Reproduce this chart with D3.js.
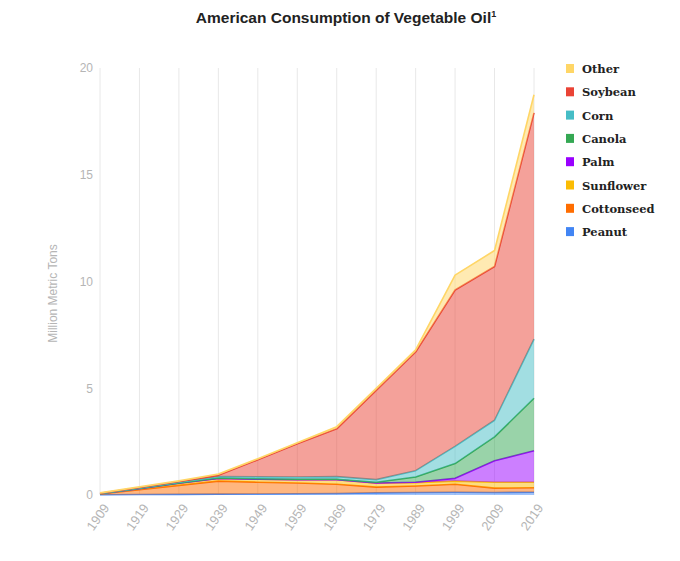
<!DOCTYPE html>
<html>
<head>
<meta charset="utf-8">
<script src="https://cdn.jsdelivr.net/npm/d3@7"></script>
<style>
  body { margin: 0; background: #fff; }
  svg { display: block; }
</style>
</head>
<body>
<svg id="chart" width="680" height="561"></svg>
<script>
// years on the x axis
const years = [1909, 1919, 1929, 1939, 1949, 1959, 1969, 1979, 1989, 1999, 2009, 2019];

// million metric tons per oil
const peanut     = [0.01, 0.02, 0.03, 0.04, 0.05, 0.06, 0.07, 0.10, 0.12, 0.13, 0.12, 0.13];
const cottonseed = [0.04, 0.23, 0.42, 0.61, 0.55, 0.50, 0.43, 0.27, 0.30, 0.37, 0.20, 0.21];
const sunflower  = [0.01, 0.05, 0.10, 0.13, 0.14, 0.16, 0.22, 0.18, 0.16, 0.15, 0.28, 0.26];
const palm       = [0.00, 0.00, 0.00, 0.00, 0.00, 0.00, 0.00, 0.01, 0.02, 0.13, 1.00, 1.47];
const canola     = [0.00, 0.01, 0.01, 0.02, 0.02, 0.02, 0.02, 0.04, 0.24, 0.69, 1.12, 2.46];
const corn       = [0.01, 0.02, 0.04, 0.07, 0.09, 0.10, 0.12, 0.12, 0.30, 0.81, 0.78, 2.77];
const soybean    = [0.01, 0.02, 0.03, 0.05, 0.80, 1.56, 2.24, 4.18, 5.56, 7.32, 7.20, 10.60];
const other      = [0.02, 0.03, 0.03, 0.06, 0.05, 0.05, 0.10, 0.10, 0.10, 0.70, 0.75, 0.85];

// stacking order, bottom to top
const seriesNames  = ["Peanut", "Cottonseed", "Sunflower", "Palm", "Canola", "Corn", "Soybean", "Other"];
const seriesValues = [peanut, cottonseed, sunflower, palm, canola, corn, soybean, other];
const seriesColors = ["#4285f4", "#ff6d00", "#fbbc04", "#9900ff", "#34a853", "#46bdc6", "#ea4335", "#ffd666"];

const yTicks = [0, 5, 10, 15, 20];

const svg = d3.select("#chart");
const margin = { left: 100, right: 146, top: 68, bottom: 66 };
const width  = 680 - margin.left - margin.right;
const height = 561 - margin.top - margin.bottom;

const x = d3.scaleLinear().domain([1909, 2019]).range([margin.left, margin.left + width]);
const y = d3.scaleLinear().domain([0, 20]).range([margin.top + height, margin.top]);

// table for d3.stack
const table = years.map((yr, i) => {
  const row = { year: yr };
  seriesNames.forEach((name, k) => { row[name] = seriesValues[k][i]; });
  return row;
});
const stacked = d3.stack().keys(seriesNames)(table);

// title
const title = svg.append("text")
  .attr("x", 346)
  .attr("y", 23)
  .attr("text-anchor", "middle")
  .attr("font-family", "'Liberation Sans', Arial, sans-serif")
  .attr("font-weight", "bold")
  .attr("font-size", 15.5)
  .attr("fill", "#222")
  .text("American Consumption of Vegetable Oil");
title.append("tspan")
  .attr("font-size", 9)
  .attr("dy", -6)
  .text("1");

// vertical gridlines
svg.append("g")
  .selectAll("line")
  .data(years)
  .enter()
  .append("line")
  .attr("x1", d => x(d))
  .attr("x2", d => x(d))
  .attr("y1", margin.top)
  .attr("y2", margin.top + height)
  .attr("stroke", "#e8e8e8")
  .attr("stroke-width", 1);

// y axis labels
const yAxis = svg.append("g")
  .attr("transform", `translate(${margin.left},0)`)
  .call(d3.axisLeft(y).tickValues(yTicks).tickSize(0).tickPadding(7));
yAxis.select(".domain").remove();
yAxis.selectAll("text")
  .attr("font-family", "'Liberation Sans', Arial, sans-serif")
  .attr("font-size", 12)
  .attr("fill", "#b5b5b5");

// y axis title
svg.append("text")
  .attr("transform", `translate(57,${margin.top + height / 2 + 12}) rotate(-90)`)
  .attr("text-anchor", "middle")
  .attr("font-family", "'Liberation Sans', Arial, sans-serif")
  .attr("font-size", 12)
  .attr("fill", "#b5b5b5")
  .text("Million Metric Tons");

// x axis labels (rotated)
const xAxis = svg.append("g")
  .attr("transform", `translate(0,${margin.top + height})`)
  .call(d3.axisBottom(x).tickValues(years).tickFormat(d3.format("d")).tickSize(0));
xAxis.select(".domain").remove();
xAxis.selectAll("text")
  .attr("font-family", "'Liberation Sans', Arial, sans-serif")
  .attr("font-size", 13)
  .attr("fill", "#b5b5b5")
  .attr("text-anchor", "end")
  .attr("dy", 0)
  .attr("transform", "translate(7,11) rotate(-55)");

// areas + top lines
const area = d3.area()
  .x(d => x(d.data.year))
  .y0(d => y(d[0]))
  .y1(d => y(d[1]));

const line = d3.line()
  .x(d => x(d.data.year))
  .y(d => y(d[1]));

const layers = svg.append("g");
stacked.forEach((s, k) => {
  layers.append("path")
    .attr("d", area(s))
    .attr("fill", seriesColors[k])
    .attr("fill-opacity", 0.5);
  layers.append("path")
    .attr("d", line(s))
    .attr("fill", "none")
    .attr("stroke", seriesColors[k])
    .attr("stroke-width", 1.6)
    .attr("stroke-linejoin", "round");
});

// legend, top to bottom is reverse of stacking
const legendNames = seriesNames.slice().reverse();
const legendColors = seriesColors.slice().reverse();
const legend = svg.append("g").attr("transform", "translate(566,68)");
legendNames.forEach((name, i) => {
  const row = legend.append("g").attr("transform", `translate(0,${i * 23.3})`);
  row.append("rect")
    .attr("x", 0)
    .attr("y", -4)
    .attr("width", 8)
    .attr("height", 9)
    .attr("fill", legendColors[i]);
  row.append("text")
    .attr("x", 16)
    .attr("y", 5)
    .attr("font-family", "'DejaVu Serif', serif")
    .attr("font-weight", "bold")
    .attr("font-size", 11.5)
    .attr("fill", "#222")
    .text(name);
});
</script>
</body>
</html>
